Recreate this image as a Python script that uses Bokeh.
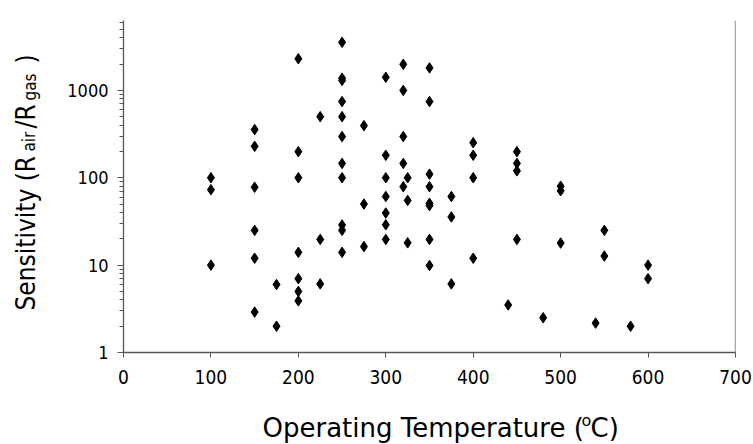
import math
from bokeh.plotting import figure
from bokeh.layouts import row, column
from bokeh.models import FixedTicker, Label, Span, PrintfTickFormatter, Range1d
from bokeh.embed import file_html
from bokeh.resources import INLINE

# ---- data ----
temps = [100, 100, 100,
         150, 150, 150, 150, 150, 150,
         175, 175,
         200, 200, 200, 200, 200, 200, 200,
         225, 225, 225,
         250, 250, 250, 250, 250, 250, 250, 250, 250, 250, 250,
         275, 275, 275,
         300, 300, 300, 300, 300, 300, 300,
         320, 320, 320, 320, 320,
         325, 325, 325,
         350, 350, 350, 350, 350, 350, 350, 350,
         375, 375, 375,
         400, 400, 400, 400,
         440,
         450, 450, 450, 450,
         480,
         500, 500, 500,
         540,
         550, 550,
         580,
         600, 600]
sensitivity = [100, 73, 10,
               356, 229, 78, 25, 12, 2.9,
               6, 2.0,
               2300, 199, 100, 14, 7, 5, 3.9,
               500, 19.7, 6.1,
               3550, 1380, 1300, 745, 500, 296, 146, 100, 28.8, 25, 14,
               395, 50, 16.3,
               1413, 181, 100, 61, 39.5, 29, 19.7,
               1990, 1000, 296, 146, 79,
               100, 55, 18,
               1810, 745, 110, 79, 51, 48, 19.7, 9.9,
               61, 35.6, 6.1,
               252, 181, 100, 12,
               3.5,
               199, 146, 120, 19.7,
               2.5,
               80, 71, 17.9,
               2.17,
               25, 12.7,
               2.0,
               10, 7]
x_ticks = [0, 100, 200, 300, 400, 500, 600, 700]
y_ticks = [1, 10, 100, 1000]
y_minor = [m * d for d in (1, 10, 100, 1000) for m in range(2, 10)]

W, H = 753, 444
YLAB_W = 60          # strip for the vertical axis title
XLAB_H = 44          # strip for the horizontal axis title
PW, PH = W - YLAB_W, H - XLAB_H
BL, BR = 63, 18      # plot borders left/right inside the main figure
XMAX = 700
YMAX = 10 ** 3.8
AX = "#555555"
TICK_FONT = "'DejaVu Sans Condensed', 'DejaVu Sans', sans-serif"

p = figure(width=PW, height=PH, output_backend="svg", toolbar_location=None,
           x_range=(0, XMAX), y_range=(1, YMAX), y_axis_type="log",
           min_border_left=BL, min_border_right=BR, min_border_top=20, min_border_bottom=48)
p.outline_line_color = None
p.xgrid.visible = False
p.ygrid.visible = False
p.background_fill_color = "white"
p.border_fill_color = "white"

p.scatter(temps, sensitivity, marker="diamond", size=10.5, color="black")

p.xaxis.ticker = FixedTicker(ticks=x_ticks)
p.yaxis.ticker = FixedTicker(ticks=y_ticks, minor_ticks=y_minor)
p.yaxis.formatter = PrintfTickFormatter(format="%d")
for ax in (p.xaxis[0], p.yaxis[0]):
    ax.axis_line_color = AX
    ax.axis_line_width = 1.3
    ax.major_tick_line_color = AX
    ax.minor_tick_line_color = AX
    ax.major_tick_in = 0
    ax.minor_tick_in = 0
    ax.major_label_text_font = TICK_FONT
    ax.major_label_text_color = "black"
p.xaxis.minor_tick_line_color = None
p.xaxis.major_tick_out = 5
p.yaxis.major_tick_out = 6
p.yaxis.minor_tick_out = 4
p.xaxis.major_label_text_font_size = "19px"
p.yaxis.major_label_text_font_size = "18px"
p.xaxis.major_label_standoff = 12
p.yaxis.major_label_standoff = 9

p.add_layout(Span(location=XMAX, dimension="height", line_color=AX, line_width=1.3))


def strip(w, h, bl, br, xr, yr):
    f = figure(width=w, height=h, output_backend="svg", toolbar_location=None,
               x_range=Range1d(*xr), y_range=Range1d(*yr),
               x_axis_location=None, y_axis_location=None,
               min_border_left=bl, min_border_right=br,
               min_border_top=0, min_border_bottom=0)
    f.outline_line_color = None
    f.xgrid.visible = False
    f.ygrid.visible = False
    f.background_fill_color = "white"
    f.border_fill_color = "white"
    return f


def add_text(f, txt, x, y, size, font, angle=0.0):
    f.add_layout(Label(x=x, y=y, text=txt, angle=angle, text_font=font,
                       text_font_size=size, text_color="black",
                       text_align="left", text_baseline="alphabetic"))


# y axis title: Sensitivity (R_air/R_gas )   (strip coordinates = page pixels)
yl = strip(YLAB_W, H, 0, 0, (0, YLAB_W), (H, 0))
YF = "'DejaVu Sans Condensed', 'DejaVu Sans', sans-serif"
A = math.pi / 2
add_text(yl, "Sensitivity (R", 25, 310, "26px", YF, A)
add_text(yl, "air", 28, 151, "17px", YF, A)
add_text(yl, "/R", 25, 128, "26px", YF, A)
add_text(yl, "gas", 29, 100, "17px", YF, A)
add_text(yl, ")", 25, 63, "26px", YF, A)

# x axis title: Operating Temperature (oC)   (strip coordinates = page pixels)
xl = strip(PW, XLAB_H, BL, BR, (YLAB_W + BL, W - BR), (H, H - XLAB_H))
XF = "'DejaVu Sans', sans-serif"
add_text(xl, "Operating Temperature (", 262, 427, "26px", XF)
add_text(xl, "o", 581, 420, "16px", XF)
add_text(xl, "C)", 590, 427, "26px", XF)

layout = row(yl, column(p, xl, spacing=0), spacing=0)
open("out.html", "w").write(file_html(layout, INLINE))
